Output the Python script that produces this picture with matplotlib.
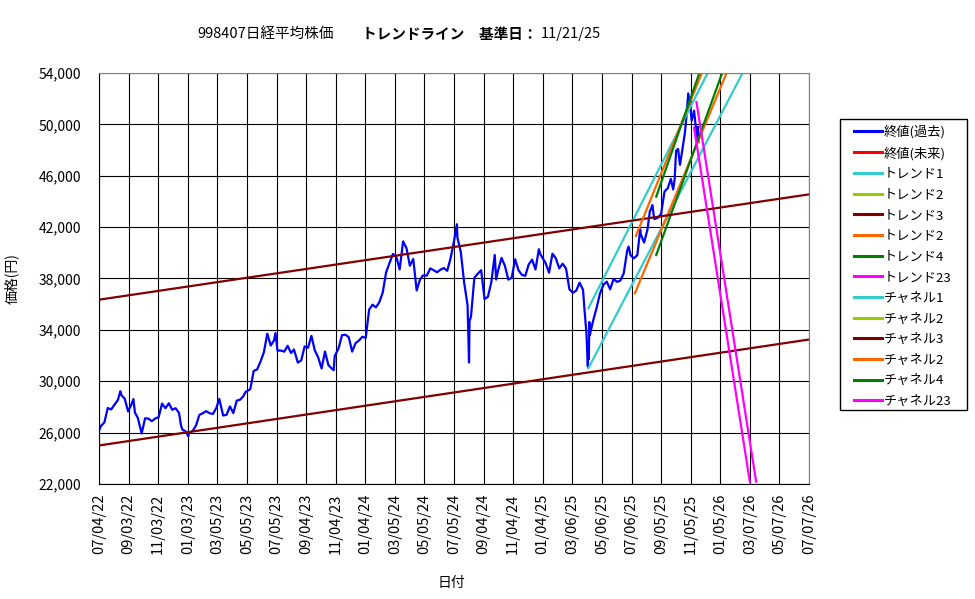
import numpy as np
import pandas as pd
import matplotlib
matplotlib.use('Agg')
import matplotlib.pyplot as plt
from matplotlib.patches import Rectangle
from matplotlib.ticker import FuncFormatter

plt.rcParams['font.family'] = ['Noto Sans CJK JP', 'DejaVu Sans']

## closing prices (past)
close_dates = [
    '2022-07-04', '2022-07-08', '2022-07-15', '2022-07-22', '2022-07-29', '2022-08-05', '2022-08-12',
    '2022-08-17', '2022-08-19', '2022-08-26', '2022-09-02', '2022-09-09', '2022-09-13', '2022-09-16',
    '2022-09-22', '2022-09-30', '2022-10-07', '2022-10-14', '2022-10-21', '2022-10-28', '2022-11-04',
    '2022-11-11', '2022-11-18', '2022-11-25', '2022-12-02', '2022-12-09', '2022-12-16', '2022-12-20',
    '2022-12-23', '2022-12-30',
    '2023-01-04', '2023-01-06', '2023-01-13', '2023-01-20', '2023-01-27', '2023-02-03', '2023-02-10',
    '2023-02-17', '2023-02-24', '2023-03-03', '2023-03-09', '2023-03-17', '2023-03-24', '2023-03-31',
    '2023-04-07', '2023-04-14', '2023-04-21', '2023-04-28', '2023-05-02', '2023-05-12', '2023-05-19',
    '2023-05-26', '2023-06-02', '2023-06-09', '2023-06-16', '2023-06-23', '2023-06-30', '2023-07-03',
    '2023-07-07', '2023-07-14', '2023-07-21', '2023-07-28', '2023-08-04', '2023-08-10', '2023-08-18',
    '2023-08-25', '2023-09-01', '2023-09-08', '2023-09-15', '2023-09-22', '2023-09-29', '2023-10-06',
    '2023-10-13', '2023-10-20', '2023-10-27', '2023-10-31', '2023-11-02', '2023-11-10', '2023-11-17',
    '2023-11-24', '2023-12-01', '2023-12-08', '2023-12-15', '2023-12-22', '2023-12-29',
    '2024-01-05', '2024-01-12', '2024-01-19', '2024-01-26', '2024-02-02', '2024-02-09', '2024-02-16',
    '2024-02-22', '2024-03-01', '2024-03-08', '2024-03-15', '2024-03-22', '2024-03-29', '2024-04-05',
    '2024-04-12', '2024-04-19', '2024-04-26', '2024-05-02', '2024-05-10', '2024-05-17', '2024-05-24',
    '2024-05-31', '2024-06-07', '2024-06-14', '2024-06-21', '2024-06-28', '2024-07-05', '2024-07-11',
    '2024-07-12', '2024-07-19', '2024-07-26', '2024-08-02', '2024-08-05', '2024-08-06', '2024-08-09',
    '2024-08-16', '2024-08-23', '2024-08-30', '2024-09-06', '2024-09-13', '2024-09-20', '2024-09-27',
    '2024-09-30', '2024-10-04', '2024-10-11', '2024-10-18', '2024-10-25', '2024-11-01', '2024-11-08',
    '2024-11-15', '2024-11-22', '2024-11-29', '2024-12-06', '2024-12-13', '2024-12-20', '2024-12-27',
    '2024-12-30',
    '2025-01-10', '2025-01-17', '2025-01-24', '2025-01-31', '2025-02-07', '2025-02-14', '2025-02-21',
    '2025-02-28', '2025-03-07', '2025-03-14', '2025-03-21', '2025-03-28', '2025-03-31', '2025-04-04',
    '2025-04-07', '2025-04-08', '2025-04-09', '2025-04-10', '2025-04-11', '2025-04-18', '2025-04-25',
    '2025-05-02', '2025-05-09', '2025-05-16', '2025-05-23', '2025-05-30', '2025-06-06', '2025-06-13',
    '2025-06-20', '2025-06-27', '2025-06-30', '2025-07-04', '2025-07-11', '2025-07-18', '2025-07-24',
    '2025-07-25', '2025-08-01', '2025-08-08', '2025-08-13', '2025-08-15', '2025-08-18', '2025-08-22',
    '2025-08-29', '2025-09-05', '2025-09-12', '2025-09-19', '2025-09-25', '2025-09-30', '2025-10-03',
    '2025-10-06', '2025-10-10', '2025-10-14', '2025-10-17', '2025-10-24', '2025-10-27', '2025-10-31',
    '2025-11-04', '2025-11-07', '2025-11-12', '2025-11-14', '2025-11-18', '2025-11-20', '2025-11-21',
]
close_vals = [
    26153, 26517, 26788, 27915, 27802, 28176, 28547,
    29222, 28930, 28641, 27650, 28214, 28614, 27567,
    27153, 25937, 27116, 27090, 26890, 27105, 27199,
    28263, 27899, 28283, 27777, 27901, 27527, 26568,
    26235, 26094,
    25716, 25973, 26119, 26553, 27382, 27509, 27670,
    27513, 27453, 27927, 28623, 27333, 27385, 28041,
    27518, 28493, 28564, 28856, 29157, 29388, 30808,
    30916, 31524, 32265, 33706, 32781, 33189, 33753,
    32388, 32391, 32304, 32759, 32192, 32473, 31450,
    31624, 32710, 32606, 33533, 32402, 31857, 30994,
    32315, 31259, 30991, 30858, 31950, 32568, 33585,
    33625, 33431, 32307, 32970, 33169, 33464,
    33377, 35577, 35963, 35751, 36158, 36897, 38487,
    39098, 39910, 39688, 38707, 40888, 40369, 38992,
    39523, 37068, 37934, 38236, 38229, 38787, 38646,
    38487, 38683, 38814, 38596, 39583, 40912, 42224,
    41190, 40063, 37667, 35909, 31458, 34675, 35025,
    38062, 38364, 38647, 36391, 36581, 37723, 39829,
    37919, 38635, 39605, 38981, 37913, 38053, 39500,
    38642, 38283, 38208, 39091, 39470, 38701, 40281,
    39894,
    39190, 38451, 39931, 39572, 38787, 39149, 38776,
    37155, 36887, 37053, 37677, 37120, 35617, 33780,
    31136, 33012, 31714, 34609, 33586, 34730, 35705,
    36831, 37503, 37753, 37160, 37965, 37741, 37834,
    38403, 40150, 40487, 39810, 39569, 39819, 41826,
    41456, 40800, 41820, 43274, 43378, 43714, 42633,
    42718, 43018, 44768, 45045, 45754, 44932, 45769,
    47944, 48088, 46847, 47582, 49299, 50512, 52411,
    51497, 50276, 51063, 50376, 48702, 49823, 48625,
]

## legend order, colours
series_names = ['終値(過去)', '終値(未来)', 'トレンド1', 'トレンド2', 'トレンド3', 'トレンド2', 'トレンド4',
                'トレンド23', 'チャネル1', 'チャネル2', 'チャネル3', 'チャネル2', 'チャネル4', 'チャネル23']
series_colors = ['#0000FF', '#FF0000', '#33CCCC', '#99CC00', '#800000', '#FF6600', '#008000',
                 '#FF00FF', '#33CCCC', '#99CC00', '#800000', '#FF6600', '#008000', '#FF00FF']

## other series (same order as series_names[1:]): start and end points, None = nothing shown
line_start_dates = [None, '2025-04-08', None, '2022-07-04', '2025-07-13', '2025-08-26', '2025-11-17',
                    '2025-04-08', None, '2022-07-04', '2025-07-15', '2025-08-26', '2025-11-12']
line_start_vals = [None, 31008, None, 25000, 36850, 39830, 51740,
                   35680, None, 36350, 41310, 44370, 49740]
line_end_dates = [None, '2026-02-20', None, '2026-07-07', '2026-01-18', '2026-01-09', '2026-03-20',
                  '2025-12-10', None, '2026-07-07', '2025-11-28', '2025-11-23', '2026-03-07']
line_end_vals = [None, 54000, None, 33250, 54000, 54000, 22180,
                 54000, None, 44550, 54000, 54000, 22180]

tick_dates = pd.date_range('2022-07-04', periods=25, freq='61D')

fig = plt.figure(figsize=(9.75, 5.99), dpi=100)
ax = fig.add_axes([99/975, 1-484/599, 710/975, 411/599])

handles = []
h, = ax.plot(pd.to_datetime(close_dates), close_vals, color=series_colors[0], lw=1.6)
handles.append(h)
for i, col in enumerate(series_colors[1:]):
    if line_start_dates[i] is None:
        h, = ax.plot([], [], color=col, lw=1.6)
    else:
        xs = pd.to_datetime([line_start_dates[i], line_end_dates[i]])
        h, = ax.plot(xs, [line_start_vals[i], line_end_vals[i]], color=col, lw=1.6)
    handles.append(h)

ax.set_xlim(tick_dates[0], tick_dates[-1])
ax.set_ylim(22000, 54000)
ax.set_yticks(np.arange(22000, 54001, 4000))
ax.yaxis.set_major_formatter(FuncFormatter(lambda v, p: f'{int(v):,}'))
ax.set_xticks(tick_dates)
ax.set_xticklabels([d.strftime('%m/%d/%y') for d in tick_dates], rotation=90)
ax.tick_params(axis='x', length=0, pad=7, labelsize=10.5)
ax.tick_params(axis='y', length=0, pad=13, labelsize=10)
ax.grid(True, color='black', lw=0.8)
ax.set_axisbelow(True)
for s in ['left', 'bottom']:
    ax.spines[s].set_color('black')
for s in ['top', 'right']:
    ax.spines[s].set_color('#808080')

ax.set_ylabel('価格(円)', fontsize=10)
ax.yaxis.set_label_coords(-80/710, 0.5)
fig.text(451/975, 1-583/599, '日付', ha='center', va='center', fontsize=10)

## title
fig.text(197/975, 1-34/599, '998407日経平均株価', ha='left', va='center', fontsize=10.5)
fig.text(362/975, 1-34/599, 'トレンドライン　基準日：', ha='left', va='center',
         fontsize=10.5, fontweight='bold')
fig.text(541/975, 1-34/599, '11/21/25', ha='left', va='center', fontsize=10.5)

## legend
leg = ax.legend(handles, series_names, loc='upper left', bbox_to_anchor=(854/975, 1-125/599),
                bbox_transform=fig.transFigure, frameon=False, fontsize=9.5, borderpad=0,
                borderaxespad=0, handlelength=2.1, handletextpad=0.15, labelspacing=0.58)
for l in leg.get_lines():
    l.set_linewidth(2.2)
fig.patches.append(Rectangle((839.5/975, 1-410/599), 127/975, 291/599, transform=fig.transFigure,
                             fill=False, edgecolor='black', lw=1))

fig.savefig('out.png', dpi=100)
